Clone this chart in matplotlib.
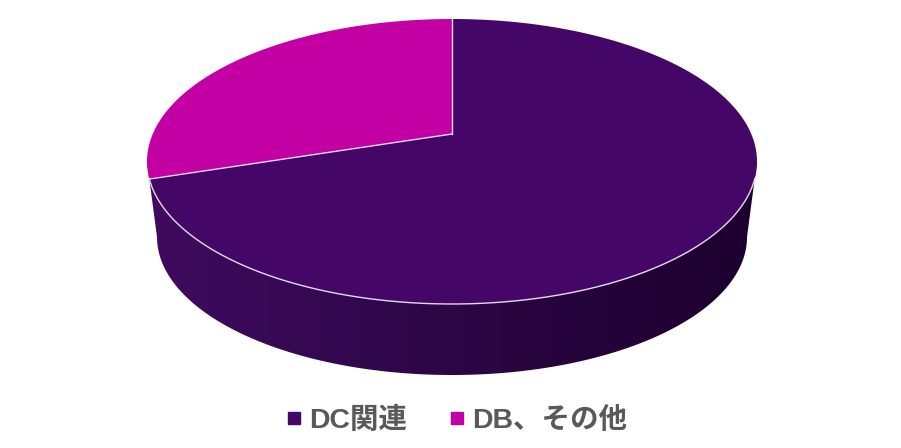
import numpy as np
import matplotlib
matplotlib.use('Agg')
import matplotlib.pyplot as plt
from matplotlib.lines import Line2D
from matplotlib.colors import LinearSegmentedColormap
from matplotlib.patches import Polygon

plt.rcParams['font.family'] = ['Liberation Sans', 'Noto Sans CJK JP', 'DejaVu Sans']

# pie data
labels = ['DC関連', 'DB、その他']
values = [70, 30]
colors = ['#450767', '#C300A3']

# look of the fake 3D disc, in pixels
cx, cy = 452, 161.5
rx, ry = 305, 142.5
apex_up = 27.5  # centre of pie sits above centre of ellipse
tilt = apex_up / ry
dx = rx * np.sqrt(1 - tilt ** 2)
bottom_cy, bottom_rx, bottom_ry = 237, 295, 138
edge = '#E6D8F0'


def project(theta):
    # circle -> perspective ellipse, so the centre of the pie is off centre
    s = np.sin(theta)
    w = 1 + tilt * s
    return cx + dx * np.cos(theta) / w, cy - (ry * s + apex_up) / w


fig = plt.figure(figsize=(9.01, 4.48), dpi=100)
ax = fig.add_axes([0, 0, 1, 1])

# side of the disc, horizontal gradient clipped to the outline
half = np.linspace(0, np.pi, 361)
x_low = cx + bottom_rx * np.cos(half)
y_low = bottom_cy + bottom_ry * np.sin(half)
outline = np.vstack([[[cx + rx, cy]], np.column_stack([x_low, y_low]), [[cx - rx, cy]]])
side = Polygon(outline, closed=True, facecolor='none', edgecolor='none')
ax.add_patch(side)
cmap = LinearSegmentedColormap.from_list('side', ['#400B60', '#2C0645', '#1C002E'])
grad = ax.imshow(np.linspace(0, 1, 256).reshape(1, -1), cmap=cmap, aspect='auto',
                 extent=[cx - rx, cx + rx, 375, 160], zorder=1)
grad.set_clip_path(side)

# top face, slices run clockwise from 12 o'clock
fractions = np.array(values) / sum(values)
start = np.pi / 2
for frac, col in zip(fractions, colors):
    end = start - 2 * np.pi * frac
    px, py = project(np.linspace(start, end, 400))
    ax.fill(np.r_[cx, px], np.r_[cy - apex_up, py], facecolor=col, edgecolor='none', zorder=2)
    start = end

# light lines: the two radii and the front of the rim only
start = np.pi / 2
for frac in fractions:
    ex, ey = project(np.array([start]))
    ax.plot([cx, ex[0]], [cy - apex_up, ey[0]], color=edge, linewidth=1.0, zorder=3)
    start -= 2 * np.pi * frac
th = np.linspace(0, 2 * np.pi, 1441)
rim_x, rim_y = project(th)
rim_y = np.where(rim_y >= 178, rim_y, np.nan)
ax.plot(rim_x, rim_y, color=edge, linewidth=1.0, zorder=3)

handles = [Line2D([], [], linestyle='none', marker='s', markersize=9, color=c) for c in colors]
ax.legend(handles, labels, loc='center', bbox_to_anchor=(457, 420), bbox_transform=ax.transData,
          ncol=2, frameon=False, prop={'size': 20.5, 'weight': 'bold'}, labelcolor='#595959',
          handlelength=0.5, handletextpad=0.3, columnspacing=1.47, borderpad=0, borderaxespad=0)

ax.set_xlim(0, 901)
ax.set_ylim(448, 0)
ax.axis('off')

fig.savefig('out.png', dpi=100, facecolor='white')
